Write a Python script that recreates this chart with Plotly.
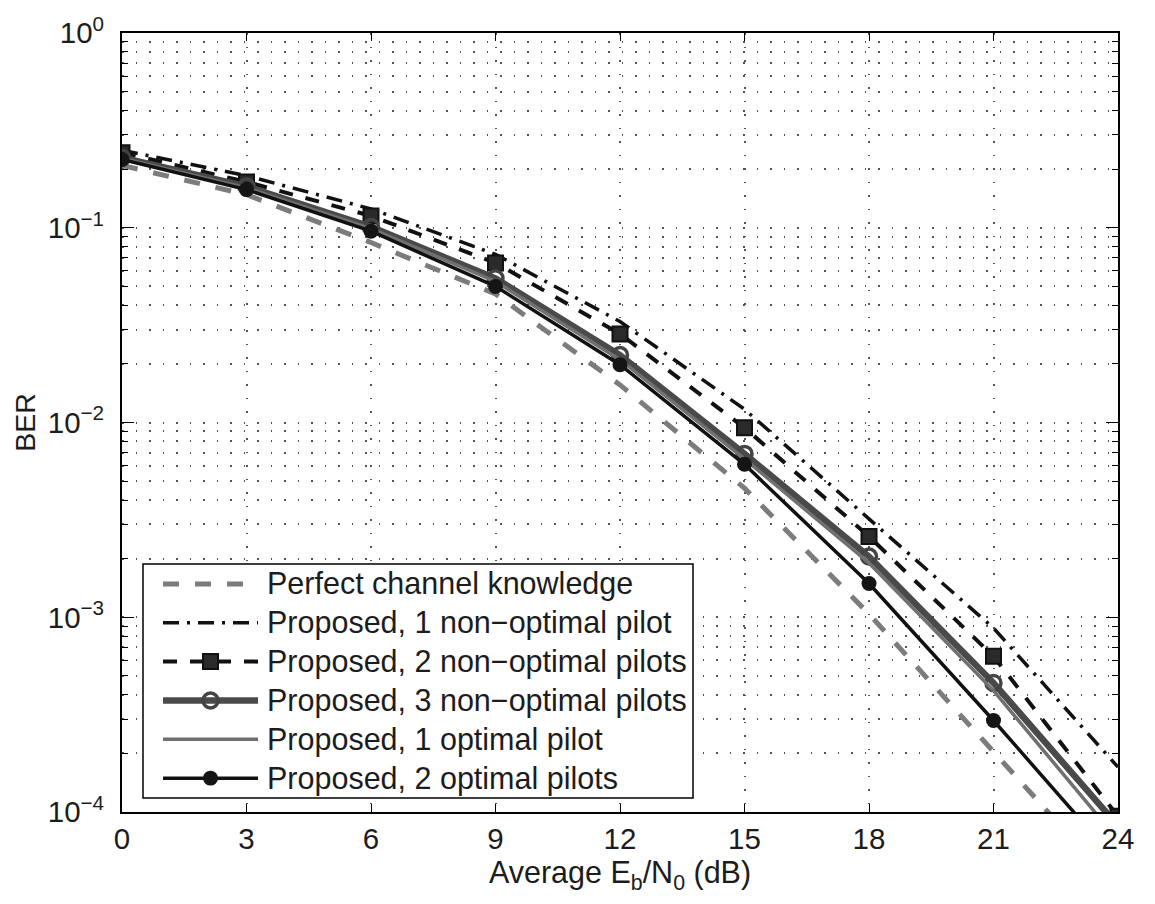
import plotly.graph_objects as go

# Average Eb/N0 (dB) at which every scheme was simulated
ebn0_db = [0, 3, 6, 9, 12, 15, 18, 21, 24]

# Bit error rates per scheme
ber_perfect = [0.209, 0.148, 0.084, 0.0457, 0.0156, 0.0046, 0.00104, 0.000208, 0.000040]
ber_1_nonopt = [0.25, 0.185, 0.125, 0.073, 0.0330, 0.0117, 0.0032, 0.00088, 0.00017]
ber_2_nonopt = [0.243, 0.172, 0.115, 0.066, 0.0285, 0.0094, 0.0026, 0.00063, 0.000095]
ber_3_nonopt = [0.229, 0.163, 0.101, 0.055, 0.0222, 0.0069, 0.00205, 0.00046, 0.000085]
ber_1_opt = [0.227, 0.160, 0.099, 0.053, 0.0210, 0.0065, 0.00190, 0.00042, 0.000072]
ber_2_opt = [0.224, 0.157, 0.096, 0.050, 0.0198, 0.0061, 0.00149, 0.000295, 0.000055]

series_names = [
    "Perfect channel knowledge",
    "Proposed, 1 non\u2212optimal pilot",
    "Proposed, 2 non\u2212optimal pilots",
    "Proposed, 3 non\u2212optimal pilots",
    "Proposed, 1 optimal pilot",
    "Proposed, 2 optimal pilots",
]

x_ticks = [0, 3, 6, 9, 12, 15, 18, 21, 24]
y_ticks = [1e-4, 1e-3, 1e-2, 1e-1, 1e0]
y_tick_text = ["10<sup>\u22124</sup>", "10<sup>\u22123</sup>", "10<sup>\u22122</sup>",
               "10<sup>\u22121</sup>", "10<sup>0</sup>"]

FONT = "Liberation Sans, Arial, Helvetica, sans-serif"
TXT = "#1c1c1c"
FS = 30.5

W, H = 1155, 904
ML, MR, MT, MB = 122, 37, 30, 92
PW, PH = W - ML - MR, H - MT - MB

# line / marker styles per scheme
lines = [
    dict(color="#7c7c7c", width=5, dash="16px,16px"),
    dict(color="#111111", width=3.5, dash="16px,8px,3px,8px"),
    dict(color="#111111", width=4, dash="14px,13px"),
    dict(color="#4a4a4a", width=6.5),
    dict(color="#707070", width=3.5),
    dict(color="#111111", width=3.5),
]
markers = [
    None,
    None,
    dict(symbol="square", size=15, color="#2a2a2a", line=dict(color="#111111", width=2)),
    dict(symbol="circle-open", size=15, color="#444444", line=dict(color="#444444", width=3.5)),
    None,
    dict(symbol="circle", size=15, color="#151515", line=dict(color="#151515", width=0)),
]

all_ber = [ber_perfect, ber_1_nonopt, ber_2_nonopt, ber_3_nonopt, ber_1_opt, ber_2_opt]

fig = go.Figure()
for name, ber, ln, mk in zip(series_names, all_ber, lines, markers):
    kw = dict(mode="lines")
    if mk is not None:
        kw = dict(mode="lines+markers", marker=mk)
    fig.add_trace(go.Scatter(x=ebn0_db, y=ber, name=name, line=ln,
                             cliponaxis=True, showlegend=False, **kw))

# minor log gridlines (2..9 within each decade)
minor_vals = [k * 10.0 ** e for e in range(-4, 0) for k in range(2, 10)]

grid_dash = "1.5px,12px"
fig.update_xaxes(
    range=[0, 24], tickvals=x_ticks, ticks="inside", ticklen=8, tickwidth=1.2,
    tickcolor="black", showline=True, linewidth=2, linecolor="black", mirror="ticks",
    showgrid=True, gridcolor="#555555", gridwidth=1.5, griddash=grid_dash,
    zeroline=False, tickfont=dict(family=FONT, size=FS - 1, color=TXT),
    title=dict(text="Average E<sub>b</sub>/N<sub>0</sub> (dB)",
               font=dict(family=FONT, size=FS, color=TXT), standoff=5),
)
fig.update_yaxes(
    type="log", range=[-4, 0], tickvals=y_ticks, ticktext=y_tick_text,
    ticks="inside", ticklen=12, tickwidth=1.2, tickcolor="black",
    showline=True, linewidth=2, linecolor="black", mirror="ticks",
    showgrid=True, gridcolor="#555555", gridwidth=1.5, griddash=grid_dash,
    minor=dict(tickvals=minor_vals, ticks="inside", ticklen=6, tickcolor="black",
               showgrid=True, gridcolor="#555555", gridwidth=1.5, griddash=grid_dash),
    tickfont=dict(family=FONT, size=FS - 1, color=TXT), ticklabelstandoff=10,
    title=dict(text="BER", font=dict(family=FONT, size=FS - 2, color=TXT), standoff=4),
)


# legend box drawn in paper coordinates (pixel helpers)
def px(xp):
    return (xp - ML) / PW


def py(yp):
    return (H - MB - yp) / PH


shapes = [dict(type="rect", xref="paper", yref="paper", x0=px(143), x1=px(693),
               y0=py(798), y1=py(563), fillcolor="white",
               line=dict(color="black", width=1.5), layer="above")]
annotations = []
row_y = [583, 622, 661, 700, 739, 778]
for name, ln, mk, ry in zip(series_names, lines, markers, row_y):
    shapes.append(dict(type="line", xref="paper", yref="paper", x0=px(163), x1=px(258),
                       y0=py(ry), y1=py(ry), line=ln, layer="above"))
    if mk is not None:
        r = mk["size"] / 2
        kind = "rect" if mk["symbol"] == "square" else "circle"
        fill = "rgba(0,0,0,0)" if mk["symbol"].endswith("open") else mk["color"]
        mline = mk.get("line", {})
        shapes.append(dict(type=kind, xref="paper", yref="paper",
                           x0=px(210.5 - r), x1=px(210.5 + r),
                           y0=py(ry + r), y1=py(ry - r), fillcolor=fill,
                           line=dict(color=mline.get("color", mk["color"]),
                                     width=mline.get("width", 0) or 0.01),
                           layer="above"))
    annotations.append(dict(text=name, xref="paper", yref="paper", x=px(265), y=py(ry),
                            xanchor="left", yanchor="middle", showarrow=False,
                            font=dict(family=FONT, size=FS, color=TXT)))

fig.update_layout(
    width=W, height=H,
    margin=dict(l=ML, r=MR, t=MT, b=MB),
    plot_bgcolor="white", paper_bgcolor="white",
    font=dict(family=FONT, size=FS, color=TXT),
    showlegend=False,
    shapes=shapes, annotations=annotations,
)

fig.write_html("out.html")
